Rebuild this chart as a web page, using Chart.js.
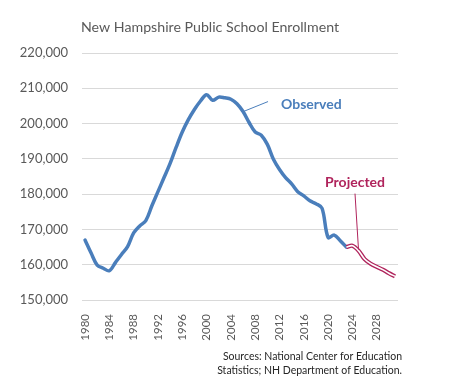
<!DOCTYPE html>
<html><head><meta charset="utf-8">
<script src="https://cdn.jsdelivr.net/npm/chart.js@4/dist/chart.umd.min.js"></script>
<style>html,body{margin:0;padding:0;background:#fff}#wrap{width:462px;height:382px}</style>
</head><body><div id="wrap"><canvas id="c" width="462" height="382"></canvas></div>
<script>
const chartTitle = "New Hampshire Public School Enrollment";
const sourceLines = ["Sources: National Center for Education", "Statistics; NH Department of Education."];
const years = ["1980","1981","1982","1983","1984","1985","1986","1987","1988","1989",
  "1990","1991","1992","1993","1994","1995","1996","1997","1998","1999",
  "2000","2001","2002","2003","2004","2005","2006","2007","2008","2009",
  "2010","2011","2012","2013","2014","2015","2016","2017","2018","2019",
  "2020","2021","2022","2023","2024","2025","2026","2027","2028","2029",
  "2030","2031"];
// Observed enrollment 1980-2023
const observed = [167000,163300,159900,159000,158300,160600,162900,165100,169000,171000,
  172500,176700,180700,184700,188700,193300,197600,201100,204000,206400,
  208200,206600,207500,207300,206900,205600,203400,200300,197600,196700,
  194100,189900,187000,184700,182900,180700,179500,178100,177300,176000,
  167700,168400,166800,165000];
// Projected enrollment 2023-2031
const projectedYears = ["2023","2024","2025","2026","2027","2028","2029","2030","2031"];
const projected = [165000,165400,164000,161600,160300,159400,158600,157600,156700];
const yMin = 150000, yMax = 220000, yStep = 10000;
const labelEvery = 4;
const observedLabel = "Observed", projectedLabel = "Projected";
const observedAnchorYear = "2006", projectedAnchorYear = "2025";

const obsData = years.map((y, i) => i < observed.length ? observed[i] : null);
const projData = years.map(y => { const k = projectedYears.indexOf(y); return k >= 0 ? projected[k] : null; });

const BLUE = '#4A7EBB', RED = '#B0245C', GRAY = '#595959';

const annot = {
  id: 'annot',
  afterDraw(chart) {
    const ctx = chart.ctx;
    ctx.save();
    // title
    ctx.fillStyle = GRAY;
    ctx.font = '14.2px Lato';
    ctx.textAlign = 'left'; ctx.textBaseline = 'alphabetic';
    ctx.fillText(chartTitle, 81, 32);
    // sources
    ctx.fillStyle = '#262626';
    ctx.font = '10.5px Lato';
    ctx.textAlign = 'right';
    sourceLines.forEach((t, i) => ctx.fillText(t, 402, 360 + i * 14));
    // observed callout
    const p0 = chart.getDatasetMeta(0).data[years.indexOf(observedAnchorYear)];
    ctx.strokeStyle = BLUE; ctx.lineWidth = 1;
    ctx.beginPath(); ctx.moveTo(p0.x - 1, p0.y + 0.5); ctx.lineTo(p0.x + 25, p0.y - 10); ctx.stroke();
    ctx.fillStyle = BLUE; ctx.font = 'bold 14px Lato'; ctx.textAlign = 'left';
    ctx.fillText(observedLabel, p0.x + 38, p0.y - 3);
    // projected callout
    const p1 = chart.getDatasetMeta(1).data[years.indexOf(projectedAnchorYear)];
    ctx.strokeStyle = RED; ctx.lineWidth = 1;
    ctx.beginPath(); ctx.moveTo(p1.x, p1.y - 1); ctx.lineTo(p1.x - 3.5, p1.y - 57); ctx.stroke();
    ctx.fillStyle = RED; ctx.textAlign = 'center';
    ctx.fillText(projectedLabel, p1.x - 3.5, p1.y - 64);
    ctx.restore();
  }
};

new Chart(document.getElementById('c'), {
  type: 'line',
  data: {
    labels: years,
    datasets: [
      { label: observedLabel, data: obsData, borderColor: BLUE, borderWidth: 3.5, pointRadius: 0, tension: 0.35, order: 2, borderCapStyle: 'round', borderJoinStyle: 'round' },
      { label: projectedLabel, data: projData, borderColor: RED, borderWidth: 4.2, pointRadius: 0, tension: 0.3, order: 1 },
      { label: projectedLabel + ' inner', data: projData, borderColor: '#ffffff', borderWidth: 1.6, pointRadius: 0, tension: 0.3, order: 0 }
    ]
  },
  options: {
    responsive: false,
    animation: false,
    devicePixelRatio: 1,
    layout: { padding: { top: 53, right: 64, bottom: 0, left: 0 } },
    plugins: { legend: { display: false }, tooltip: { enabled: false }, title: { display: false } },
    scales: {
      x: {
        type: 'category', offset: true,
        grid: { display: false }, border: { display: false },
        ticks: {
          autoSkip: false, maxRotation: 90, minRotation: 90, padding: 6,
          color: GRAY, font: { family: 'Lato', size: 11.5 },
          callback: (v, i) => ((Number(years[i]) - Number(years[0])) % labelEvery === 0 ? years[i] : '')
        },
        afterFit: s => { s.height = 82; }
      },
      y: {
        min: yMin, max: yMax,
        grid: { color: '#D9D9D9', lineWidth: 1, drawTicks: false },
        border: { display: false },
        ticks: {
          stepSize: yStep, padding: 14, color: GRAY, font: { family: 'Lato', size: 13 },
          callback: v => v.toLocaleString('en-US')
        },
        afterFit: s => { s.width = 82; }
      }
    }
  },
  plugins: [annot]
});
</script></body></html>
